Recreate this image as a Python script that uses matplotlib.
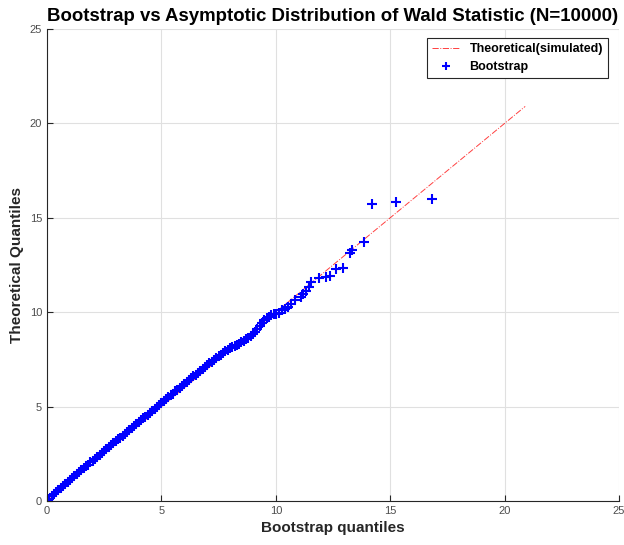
import matplotlib
matplotlib.use("Agg")
import matplotlib.pyplot as plt

plt.rcParams['font.family'] = ['Liberation Sans', 'DejaVu Sans']

# bootstrap quantiles (x) vs theoretical quantiles (y)
boot_q = [0.0, 0.1, 0.2, 0.3, 0.4, 0.5, 0.6, 0.7, 0.8, 0.9,
          1.0, 1.1, 1.2, 1.3, 1.4, 1.5, 1.6, 1.7, 1.8, 1.9,
          2.0, 2.1, 2.2, 2.3, 2.4, 2.5, 2.6, 2.7, 2.8, 2.9,
          3.0, 3.1, 3.2, 3.3, 3.4, 3.5, 3.6, 3.7, 3.8, 3.9,
          4.0, 4.1, 4.2, 4.3, 4.4, 4.5, 4.6, 4.7, 4.8, 4.9,
          5.0, 5.1, 5.2, 5.3, 5.4, 5.5, 5.6, 5.7, 5.8, 5.9,
          6.0, 6.1, 6.2, 6.3, 6.4, 6.5, 6.6, 6.7, 6.8, 6.9,
          7.0, 7.1, 7.2, 7.3, 7.4, 7.5, 7.6, 7.7, 7.8, 7.9,
          8.0, 8.1, 8.2, 8.3, 8.4, 8.5, 8.6, 8.7, 8.8, 8.9,
          9.0, 9.1, 9.2, 9.3, 9.4, 9.5, 9.6, 9.7, 9.8, 9.9,
          10.0, 10.15, 10.25, 10.39, 10.54, 10.68, 10.86, 11.09, 11.19,
          11.32, 11.44, 11.56, 11.89, 12.18, 12.39, 12.65, 12.94, 13.26,
          13.35, 13.86, 14.22, 15.27, 16.84]
theo_q = [0.02, 0.13, 0.24, 0.35, 0.46, 0.57, 0.68, 0.79, 0.90, 1.00,
          1.11, 1.21, 1.31, 1.42, 1.52, 1.62, 1.73, 1.83, 1.93, 2.04,
          2.14, 2.24, 2.34, 2.45, 2.55, 2.65, 2.75, 2.86, 2.96, 3.06,
          3.16, 3.26, 3.36, 3.46, 3.56, 3.67, 3.77, 3.87, 3.97, 4.07,
          4.17, 4.27, 4.37, 4.47, 4.57, 4.67, 4.78, 4.88, 4.98, 5.08,
          5.18, 5.28, 5.38, 5.49, 5.59, 5.69, 5.80, 5.90, 6.01, 6.11,
          6.21, 6.31, 6.40, 6.50, 6.60, 6.70, 6.80, 6.90, 7.00, 7.10,
          7.20, 7.29, 7.38, 7.48, 7.57, 7.66, 7.75, 7.84, 7.93, 8.01,
          8.09, 8.16, 8.22, 8.28, 8.34, 8.41, 8.48, 8.56, 8.65, 8.74,
          8.84, 8.96, 9.10, 9.28, 9.45, 9.60, 9.70, 9.77, 9.83, 9.88,
          9.93, 9.96, 10.10, 10.17, 10.28, 10.46, 10.63, 10.81, 10.95,
          11.13, 11.34, 11.60, 11.83, 11.85, 11.90, 12.28, 12.36, 13.14,
          13.32, 13.72, 15.73, 15.86, 16.01]

# reference line (simulated theoretical quantiles against themselves)
ref_line = [0.0, 20.9]

fig = plt.figure(figsize=(6.24, 5.45), dpi=100)
ax = fig.add_axes([47 / 624, 1 - 501 / 545, 572 / 624, 472 / 545])

ax.plot(ref_line, ref_line, '-.', color=(1, 0, 0), lw=0.7, alpha=0.75,
        label='Theoretical(simulated)')
ax.plot(boot_q, theo_q, '+', color=(0, 0, 1), ms=7, mew=1.5, ls='none',
        label='Bootstrap')

ax.set_xlim(0, 25)
ax.set_ylim(0, 25)
ax.set_xticks([0, 5, 10, 15, 20, 25])
ax.set_yticks([0, 5, 10, 15, 20, 25])
ax.grid(True, color=(0.88, 0.88, 0.88), lw=0.8)
ax.set_axisbelow(True)
for s in ['top', 'right']:
    ax.spines[s].set_visible(False)
for s in ['left', 'bottom']:
    ax.spines[s].set_color((0.15, 0.15, 0.15))
ax.tick_params(direction='in', length=4, labelsize=8, colors=(0.15, 0.15, 0.15),
               labelcolor=(0.3, 0.3, 0.3))

ax.set_title('Bootstrap vs Asymptotic Distribution of Wald Statistic (N=10000)',
             fontsize=13.4, fontweight='bold', pad=6)
ax.set_xlabel('Bootstrap quantiles', fontsize=11, fontweight='bold',
              color=(0.15, 0.15, 0.15))
ax.set_ylabel('Theoretical Quantiles', fontsize=11, fontweight='bold',
              color=(0.15, 0.15, 0.15))

leg = ax.legend(loc='upper right', bbox_to_anchor=(1 - 11 / 572, 1 - 9 / 472),
                borderaxespad=0, fancybox=False, framealpha=1,
                prop={'weight': 'bold', 'size': 9}, handlelength=2.2,
                markerscale=0.75)
leg.get_frame().set_edgecolor((0.15, 0.15, 0.15))
leg.get_frame().set_linewidth(0.8)

fig.savefig('out.png', dpi=100)
